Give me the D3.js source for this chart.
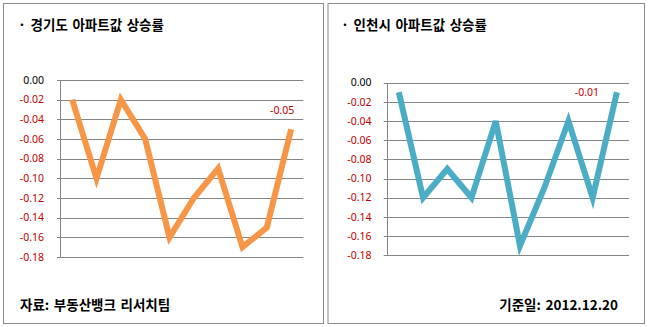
<!DOCTYPE html>
<html><head><meta charset="utf-8">
<script src="https://cdn.jsdelivr.net/npm/d3@7"></script>
<style>
html,body{margin:0;padding:0;background:#fff;}
svg{display:block;}
</style></head>
<body>
<svg id="chart" width="648" height="327"></svg>
<script>
const categories = ["1","2","3","4","5","6","7","8","9","10"];
const gyeonggiValues = [-0.02, -0.10, -0.02, -0.06, -0.16, -0.12, -0.09, -0.17, -0.15, -0.05];
const incheonValues = [-0.01, -0.12, -0.09, -0.12, -0.04, -0.17, -0.11, -0.04, -0.12, -0.01];
const yTicks = [0, -0.02, -0.04, -0.06, -0.08, -0.10, -0.12, -0.14, -0.16, -0.18];
const titles = ["· 경기도 아파트값 상승률", "· 인천시 아파트값 상승률"];
const footers = ["자료: 부동산뱅크 리서치팀", "기준일: 2012.12.20"];

const svg = d3.select("#chart");
const KR = "'Malgun Gothic','Noto Sans CJK KR','Noto Sans',sans-serif";

const panels = [
  {box:[3,3,320,320], x0:60, x1:303.3, y0:80, y1:257, labelX:44, values:gyeonggiValues, color:"#F79646",
   title:titles[0], titleX:18, footer:footers[0], footerX:20, footerAnchor:"start"},
  {box:[327.5,3,316.5,320], x0:386.7, x1:629, y0:82.7, y1:255.3, labelX:371.5, values:incheonValues, color:"#4BACC6",
   title:titles[1], titleX:341, footer:footers[1], footerX:618, footerAnchor:"end"}
];

panels.forEach((p,pi) => {
  const g = svg.append("g");
  g.append("rect").attr("x",p.box[0]+0.5).attr("y",p.box[1]+0.5)
    .attr("width",p.box[2]).attr("height",p.box[3])
    .attr("fill","#fff").attr("stroke","#8c8c8c").attr("stroke-width",1);

  const x = d3.scaleBand().domain(categories).range([p.x0,p.x1]);
  const y = d3.scaleLinear().domain([-0.18,0]).range([p.y1,p.y0]);

  g.append("g").selectAll("line").data(yTicks).join("line")
    .attr("x1",p.x0-3).attr("x2",p.x1)
    .attr("y1",d=>Math.round(y(d))+0.5).attr("y2",d=>Math.round(y(d))+0.5)
    .attr("stroke","#868686").attr("stroke-width",1);
  g.append("line").attr("x1",Math.round(p.x0)+0.5).attr("x2",Math.round(p.x0)+0.5)
    .attr("y1",Math.round(y(0))).attr("y2",Math.round(y(-0.18))+1)
    .attr("stroke","#868686");

  g.append("g").selectAll("text").data(yTicks).join("text")
    .attr("x",p.labelX).attr("y",d=>y(d)).attr("dy","0.35em")
    .attr("text-anchor","end").attr("font-family","'Noto Sans',sans-serif").attr("font-size",10.5)
    .attr("fill",d=>d===0?"#000":"#C00000")
    .text(d=>d3.format(".2f")(d).replace("−","-"));

  const line = d3.line().x((d,i)=>x(categories[i])+x.bandwidth()/2).y(d=>y(d));
  g.append("path").datum(p.values).attr("d",line).attr("fill","none")
    .attr("stroke",p.color).attr("stroke-width",6).attr("stroke-linejoin","miter").attr("stroke-linecap","butt");

  const last = p.values.length-1;
  const lx = x(categories[last])+x.bandwidth()/2;
  g.append("text").attr("x", pi===0 ? lx-9 : lx-30).attr("y", y(p.values[last]) + (pi===0 ? -19 : 0))
    .attr("dy","0.35em").attr("text-anchor","middle")
    .attr("font-family","'Noto Sans',sans-serif").attr("font-size",10.5).attr("fill","#C00000")
    .text(d3.format(".2f")(p.values[last]).replace("−","-"));

  g.append("text").attr("x",p.titleX).attr("y",25).attr("dy","0.35em")
    .attr("font-family",KR).attr("font-weight","bold").attr("font-size",13.5).attr("fill","#000")
    .attr("word-spacing",1.5)
    .text(p.title);
  g.append("text").attr("x",p.footerX).attr("y",305.5).attr("dy","0.35em").attr("text-anchor",p.footerAnchor)
    .attr("font-family",KR).attr("font-weight","bold").attr("font-size",13.5).attr("fill","#000")
    .attr("word-spacing",1.5)
    .text(p.footer);
});
</script>
</body></html>
